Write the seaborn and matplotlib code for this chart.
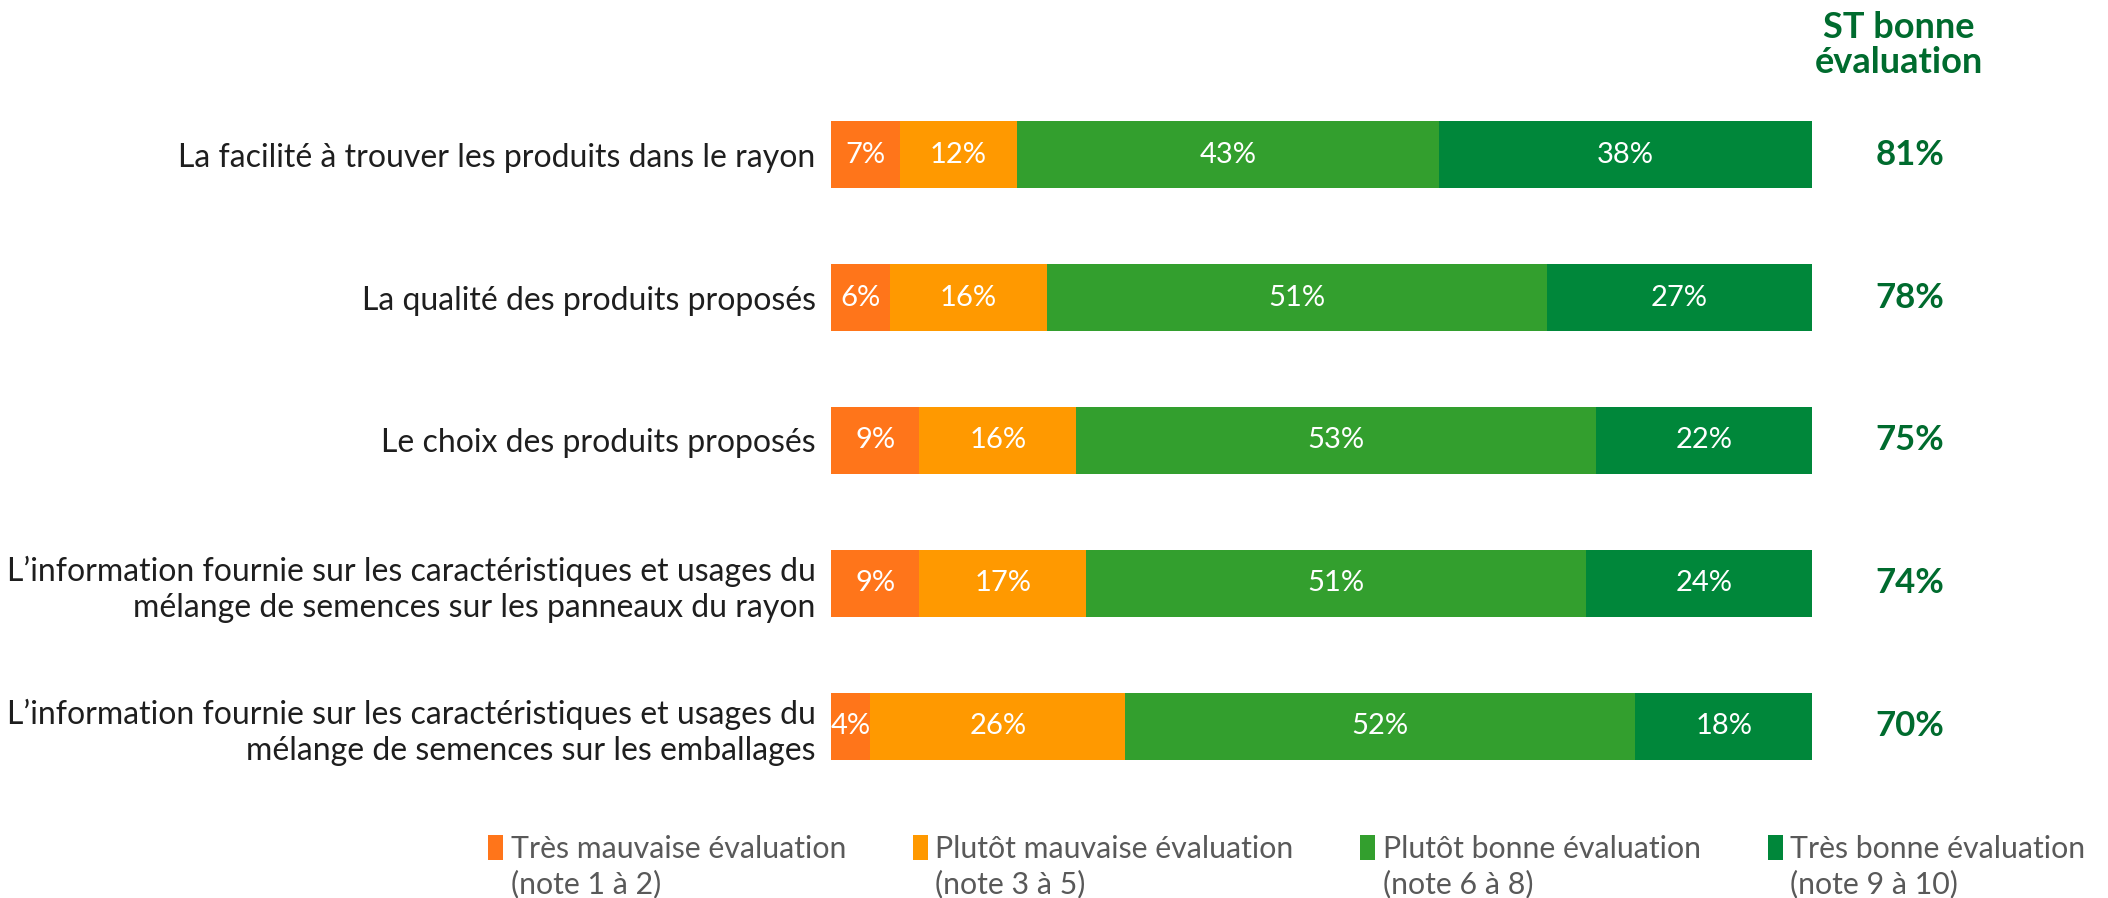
import matplotlib
matplotlib.use("Agg")
import matplotlib.pyplot as plt
import numpy as np
import pandas as pd
import seaborn as sns
from matplotlib.patches import Patch

# Survey items (top to bottom)
categories = [
    "La facilité à trouver les produits dans le rayon",
    "La qualité des produits proposés",
    "Le choix des produits proposés",
    "L’information fournie sur les caractéristiques et usages du\nmélange de semences sur les panneaux du rayon",
    "L’information fournie sur les caractéristiques et usages du\nmélange de semences sur les emballages",
]

# Share of answers per rating band (%)
tres_mauvaise = [7, 6, 9, 9, 4]
plutot_mauvaise = [12, 16, 16, 17, 26]
plutot_bonne = [43, 51, 53, 51, 52]
tres_bonne = [38, 27, 22, 24, 18]

# Sub-total "good rating"
st_bonne = [81, 78, 75, 74, 70]

series_names = [
    "Très mauvaise évaluation",
    "Plutôt mauvaise évaluation",
    "Plutôt bonne évaluation",
    "Très bonne évaluation",
]
series_notes = ["(note 1 à 2)", "(note 3 à 5)", "(note 6 à 8)", "(note 9 à 10)"]
colors = ["#FF751A", "#FF9900", "#339F2E", "#00873A"]
dark_green = "#006B2E"
legend_grey = "#595959"

sns.set_theme(style="white")
plt.rcParams["font.family"] = ["Lato", "DejaVu Sans"]

fig = plt.figure(figsize=(21.08, 8.98), dpi=100)
ax = fig.add_axes([831 / 2108, 1 - 797.5 / 898, 981 / 2108, 714 / 898])

series = [tres_mauvaise, plutot_mauvaise, plutot_bonne, tres_bonne]
cum = np.cumsum(np.array(series), axis=0)

# Stacked bars: draw cumulative totals from the widest down
for k in range(len(series) - 1, -1, -1):
    df = pd.DataFrame({"cat": categories, "val": cum[k]})
    sns.barplot(data=df, x="val", y="cat", order=categories, orient="h",
                color=colors[k], saturation=1, width=0.47, linewidth=0, ax=ax)

# Segment labels
for k in range(len(series)):
    for i, v in enumerate(series[k]):
        left = cum[k][i] - v
        ax.text(left + v / 2, i, f"{v}%", ha="center", va="center",
                color="white", fontsize=21)

# Sub-total column
for i, v in enumerate(st_bonne):
    ax.text(110, i, f"{v}%", ha="center", va="center", color=dark_green,
            fontsize=25, fontweight="bold", clip_on=False)
fig.text(1899 / 2108, 1 - 45 / 898, "ST bonne\névaluation", ha="center",
         va="center", color=dark_green, fontsize=26, fontweight="bold",
         linespacing=1.1)

ax.set_xlim(0, 100)
ax.set_xlabel("")
ax.set_ylabel("")
ax.set_xticks([])
ax.tick_params(axis="y", length=0, pad=11, labelsize=23, labelcolor="#1E1E1E")
for lab in ax.get_yticklabels():
    lab.set_linespacing(1.25)
for s in ax.spines.values():
    s.set_visible(False)

# Legend: first line with colour key, note range on a second line below
handles = [Patch(facecolor=c, edgecolor="none") for c in colors]
leg = fig.legend(handles, series_names, loc="center left",
                 bbox_to_anchor=(488 / 2108, 1 - 849 / 898), ncol=4,
                 frameon=False, fontsize=21.8, handlelength=0.5,
                 handleheight=0.85, handletextpad=0.25, columnspacing=2.2,
                 labelcolor=legend_grey, borderaxespad=0, borderpad=0)

fig.canvas.draw()
renderer = fig.canvas.get_renderer()
inv = fig.transFigure.inverted()
for txt, note in zip(leg.get_texts(), series_notes):
    bb = txt.get_window_extent(renderer)
    x0, _ = inv.transform((bb.x0, bb.y0))
    fig.text(x0, 1 - 884 / 898, note, ha="left", va="center", fontsize=21.8,
             color=legend_grey)

fig.savefig("out.png", dpi=100)
